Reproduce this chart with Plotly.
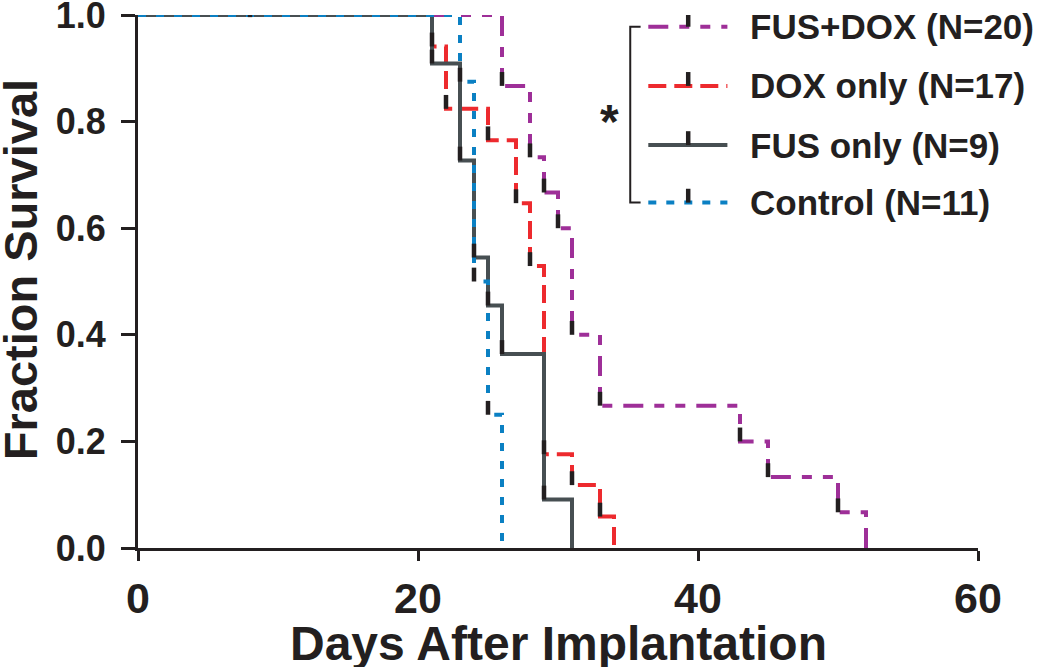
import plotly.graph_objects as go

# ---- data ----
fusdox_days = [26, 28, 29, 30, 31, 33, 43, 45, 50, 52]
fusdox_surv = [0.867, 0.733, 0.667, 0.600, 0.400, 0.267, 0.200, 0.133, 0.067, 0.0]

dox_days = [21, 22, 25, 27, 28, 29, 31, 33, 34]
dox_surv = [0.941, 0.824, 0.765, 0.647, 0.529, 0.176, 0.118, 0.059, 0.0]

fus_days = [21, 23, 24, 25, 26, 29, 31]
fus_surv = [0.909, 0.727, 0.545, 0.455, 0.364, 0.091, 0.0]
fus_censor_days = [8]
fus_censor_surv = [1.0]

ctrl_days = [23, 24, 25, 26]
ctrl_surv = [0.875, 0.5, 0.25, 0.0]

labels = ["FUS+DOX (N=20)", "DOX only (N=17)", "FUS only (N=9)", "Control (N=11)"]
x_ticks = [0, 20, 40, 60]
y_ticks = [0.0, 0.2, 0.4, 0.6, 0.8, 1.0]

PURPLE = "#9e2f98"
RED = "#ed2a2e"
GRAY = "#474f52"
BLUE = "#0b80c3"
INK = "#231f20"
FONT = "Liberation Sans"

series = [
    (fusdox_days, fusdox_surv, PURPLE, "20px,11px,10px,11px,10px,11px"),
    (dox_days, dox_surv, RED, "18px,8px"),
    (fus_days, fus_surv, GRAY, "solid"),
    (ctrl_days, ctrl_surv, BLUE, "8px,10px"),
]

fig = go.Figure()
TICK = 0.026
tx, ty = [], []
for days, surv, color, dash in series:
    fig.add_trace(go.Scatter(
        x=[0] + days, y=[1.0] + surv, mode="lines",
        line=dict(color=color, width=4, shape="hv", dash=dash),
        cliponaxis=False, showlegend=False, hoverinfo="skip"))
    for d, v in zip(days, surv):
        if v > 0:
            tx += [d, d, None]
            ty += [v, v + TICK, None]
for d, v in zip(fus_censor_days, fus_censor_surv):
    tx += [d, d, None]
    ty += [v - 0.004, v + TICK, None]

fig.add_trace(go.Scatter(x=tx, y=ty, mode="lines",
                         line=dict(color=INK, width=4.5),
                         cliponaxis=False, showlegend=False, hoverinfo="skip"))

# ---- custom legend ----
leg_y = [0.978, 0.867, 0.756, 0.648]
lx0, lx1, lxm, ltext = 36.45, 42.1, 39.3, 43.6
for (days, surv, color, dash), yy, lab in zip(series, leg_y, labels):
    fig.add_shape(type="line", xref="x", yref="y", x0=lx0, x1=lx1, y0=yy, y1=yy,
                  line=dict(color=color, width=4, dash=dash))
    fig.add_shape(type="line", xref="x", yref="y", x0=lxm, x1=lxm, y0=yy, y1=yy + TICK,
                  line=dict(color=INK, width=4.5))
    fig.add_annotation(x=ltext, y=yy, xref="x", yref="y", text=lab, showarrow=False,
                       xanchor="left", yanchor="middle",
                       font=dict(family=FONT, size=35, color=INK, weight="bold"))

# bracket and star
bx0, bx1 = 35.16, 35.9
fig.add_shape(type="path", xref="x", yref="y",
              path=f"M {bx1},{leg_y[0]} L {bx0},{leg_y[0]} L {bx0},{leg_y[3]} L {bx1},{leg_y[3]}",
              line=dict(color=INK, width=2))
fig.add_annotation(x=33.7, y=0.80, xref="x", yref="y", text="*", showarrow=False,
                   xanchor="center", yanchor="middle",
                   font=dict(family=FONT, size=48, color=INK, weight="bold"))

# axis titles
fig.add_annotation(x=0.5, y=-0.179, xref="paper", yref="paper", text="Days After Implantation",
                   showarrow=False, xanchor="center", yanchor="middle",
                   font=dict(family=FONT, size=48, color=INK, weight="bold"))
fig.add_annotation(x=-0.139, y=0.5216, xref="paper", yref="paper", text="Fraction Survival",
                   showarrow=False, textangle=-90, xanchor="center", yanchor="middle",
                   font=dict(family=FONT, size=47, color=INK, weight="bold"))

fig.update_xaxes(range=[0, 60], tickvals=x_ticks, ticktext=[str(v) for v in x_ticks],
                 showline=True, linecolor=INK, linewidth=3, ticks="outside",
                 ticklen=10, tickwidth=3, tickcolor=INK, showgrid=False, zeroline=False,
                 automargin=False, ticklabeloverflow="allow",
                 tickfont=dict(family=FONT, size=43, color=INK, weight="bold"))
fig.update_yaxes(range=[0, 1], tickvals=y_ticks, ticktext=[f"{v:.1f}" for v in y_ticks],
                 showline=True, linecolor=INK, linewidth=3, ticks="outside",
                 ticklen=14, tickwidth=3, tickcolor=INK, showgrid=False, zeroline=False,
                 ticklabelstandoff=8, automargin=False, ticklabeloverflow="allow",
                 tickfont=dict(family=FONT, size=36, color=INK, weight="bold"))

fig.update_layout(width=1050, height=667, margin=dict(l=137.7, r=72.3, t=15, b=119),
                  plot_bgcolor="white", paper_bgcolor="white", showlegend=False)

fig.write_html("out.html", config={"displayModeBar": False},
               post_script="document.body.style.margin='0';document.body.style.overflow='hidden';")
